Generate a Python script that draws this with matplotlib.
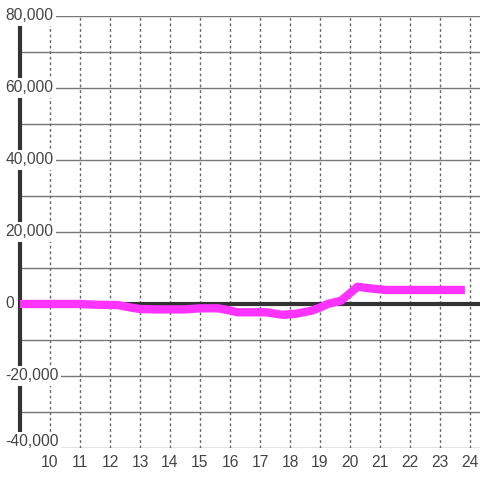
import matplotlib
matplotlib.use("Agg")
import matplotlib.pyplot as plt

hours = [9.0, 11.0, 11.5, 12.27, 12.7, 13.0, 13.5, 14.5, 15.0, 15.6, 16.0, 16.25, 17.2,
         17.75, 18.2, 18.7, 19.0, 19.25, 19.7, 20.0, 20.25, 20.7, 21.2, 22.0, 23.83]
values = [0, 0, -200, -300, -1000, -1400, -1500, -1500, -1200, -1200, -1800, -2300, -2300,
          -3000, -2700, -1900, -1000, 0, 900, 3000, 4800, 4300, 3900, 3900, 3900]

x_ticks = list(range(10, 25))
y_ticks = list(range(-40000, 80001, 20000))
y_grid = list(range(-40000, 80001, 10000))

plt.rcParams['font.family'] = ['Liberation Sans', 'DejaVu Sans']

fig = plt.figure(figsize=(4.8, 4.8), dpi=100)
ax = fig.add_axes([20/480, 32/480, 460/480, 432/480])
ax.set_xlim(9, 9 + 460/30)
ax.set_ylim(-40000, 80000)
for s in ax.spines.values():
    s.set_visible(False)
ax.set_xticks([])
ax.set_yticks([])

for g in y_grid:
    ax.axhline(g, color='#777777', lw=1, zorder=1)
for t in x_ticks:
    ax.axvline(t, color='#666666', lw=1, ls=(0, (2, 2)), zorder=1)

ax.axhline(0, color='#333333', lw=3, zorder=2)
ax.plot([9.0, 9.0], [77800, -37000], color='#333333', lw=3, clip_on=False, zorder=3,
        solid_capstyle='butt')

ax.plot(hours, values, color='#ff33ff', lw=6, zorder=4, solid_joinstyle='round',
        solid_capstyle='butt')

for v in y_ticks:
    yy = v if v != -40000 else v + 1700
    ax.text(8.52, yy, f"{v:,}", ha='left', va='center', fontsize=11.25, color='#444444',
            zorder=5, clip_on=False,
            bbox=dict(facecolor='white', edgecolor='none', pad=1.5))

for t in x_ticks:
    ax.text(t, -44000, str(t), ha='center', va='center', fontsize=11.25, color='#444444',
            clip_on=False)

fig.savefig('out.png', dpi=100)
